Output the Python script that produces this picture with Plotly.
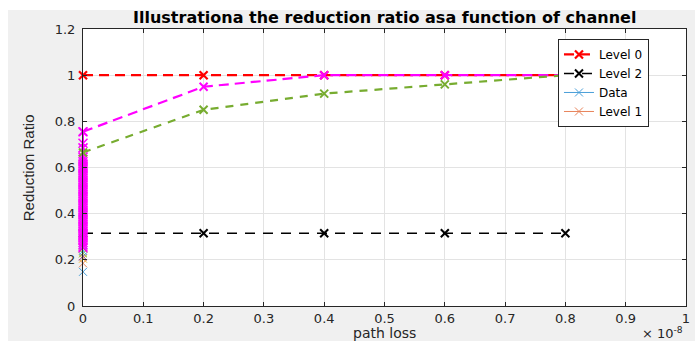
import plotly.graph_objects as go

# ---------------- data ----------------
path_loss = [0.0, 0.2e-8, 0.4e-8, 0.6e-8, 0.8e-8]
level0 = [1.0, 1.0, 1.0, 1.0, 1.0]
level2 = [0.315, 0.315, 0.315, 0.315, 0.315]
magenta_curve = [0.755, 0.95, 1.0, 1.0, 1.0]
green_curve = [0.665, 0.85, 0.92, 0.96, 1.0]

# dense column of points at zero path loss
cluster_magenta = [0.255, 0.265, 0.275, 0.285, 0.295, 0.305, 0.315, 0.325, 0.335,
                   0.345, 0.355, 0.365, 0.375, 0.385, 0.395, 0.405, 0.415, 0.425,
                   0.435, 0.445, 0.455, 0.465, 0.475, 0.485, 0.495, 0.505, 0.515,
                   0.525, 0.535, 0.545, 0.555, 0.565, 0.575, 0.585, 0.595, 0.605,
                   0.615, 0.625, 0.635, 0.645, 0.685, 0.705, 0.755]
data_y = [0.148]
level1_y = [0.185]
extra_y = [0.205, 0.215, 0.228, 0.238, 0.25]
extra_colors = ["#EDB120", "#7E2F8E", "#77AC30", "#4DBEEE", "#A2142F"]

x_ticks = [0, 0.1e-8, 0.2e-8, 0.3e-8, 0.4e-8, 0.5e-8, 0.6e-8, 0.7e-8, 0.8e-8, 0.9e-8, 1e-8]
x_ticktext = ["0", "0.1", "0.2", "0.3", "0.4", "0.5", "0.6", "0.7", "0.8", "0.9", "1"]
y_ticks = [0, 0.2, 0.4, 0.6, 0.8, 1.0, 1.2]
y_ticktext = ["0", "0.2", "0.4", "0.6", "0.8", "1", "1.2"]

FONT = "DejaVu Sans, Liberation Sans, Arial"
TXT = "#262626"

fig = go.Figure()

def xm(color, size=8, width=1.5):
    return dict(symbol="x-thin-open", size=size, color=color, line=dict(color=color, width=width))

# Level 0 (red)
fig.add_trace(go.Scatter(x=path_loss, y=level0, name="Level 0", mode="lines+markers",
                         line=dict(color="#FF0000", width=2.2, dash="10px,6px"),
                         marker=xm("#FF0000", 8, 2.2), legendrank=1, cliponaxis=False))
# Level 2 (black)
fig.add_trace(go.Scatter(x=path_loss, y=level2, name="Level 2", mode="lines+markers",
                         line=dict(color="#000000", width=1.5, dash="10px,8px"),
                         marker=xm("#000000", 8, 2), legendrank=2, cliponaxis=False))
# Data (blue)
fig.add_trace(go.Scatter(x=[0.0] * len(data_y), y=data_y, name="Data", mode="lines+markers",
                         line=dict(color="#4a9fd8", width=1), marker=xm("#4a9fd8", 8, 1),
                         legendrank=3, cliponaxis=False))
# Level 1 (orange)
fig.add_trace(go.Scatter(x=[0.0] * len(level1_y), y=level1_y, name="Level 1", mode="lines+markers",
                         line=dict(color="#e8835a", width=1), marker=xm("#e8835a", 8, 1),
                         legendrank=4, cliponaxis=False))
# extra coloured points at zero
for yv, c in zip(extra_y, extra_colors):
    fig.add_trace(go.Scatter(x=[0.0], y=[yv], mode="markers", marker=xm(c, 8, 1),
                             showlegend=False, cliponaxis=False))
# magenta column at zero
fig.add_trace(go.Scatter(x=[0.0] * len(cluster_magenta), y=cluster_magenta, mode="lines+markers",
                         line=dict(color="#FF00FF", width=2), marker=xm("#FF00FF", 9, 1.5),
                         showlegend=False, cliponaxis=False))
# magenta curve
fig.add_trace(go.Scatter(x=path_loss, y=magenta_curve, mode="lines+markers",
                         line=dict(color="#FF00FF", width=2.2, dash="10px,6px"),
                         marker=xm("#FF00FF", 8, 2), showlegend=False, cliponaxis=False))
# green curve
fig.add_trace(go.Scatter(x=path_loss, y=green_curve, mode="lines+markers",
                         line=dict(color="#77AC30", width=2.2, dash="8px,7px"),
                         marker=xm("#77AC30", 8, 2), showlegend=False, cliponaxis=False))

axis_common = dict(showline=True, linecolor=TXT, linewidth=1, mirror="ticks",
                   ticks="inside", ticklen=4, tickcolor=TXT, showgrid=True,
                   gridcolor="#e3e3e3", gridwidth=1, zeroline=False,
                   tickfont=dict(family=FONT, size=13, color=TXT))

fig.update_xaxes(range=[0, 1e-8], tickvals=x_ticks, ticktext=x_ticktext, **axis_common)
fig.update_yaxes(range=[0, 1.2], tickvals=y_ticks, ticktext=y_ticktext,
                 ticklabelstandoff=4, **axis_common)

# figure frame (grey MATLAB-like background) and white axes area
fig.add_shape(type="rect", xref="paper", yref="paper", x0=-0.1244, x1=1.0149, y0=-0.13, y1=1.0686,
              fillcolor="#f0f0f0", line=dict(width=0), layer="below")
fig.add_shape(type="rect", xref="paper", yref="paper", x0=0, x1=1, y0=0, y1=1,
              fillcolor="white", line=dict(width=0), layer="below")

fig.add_annotation(text="Illustrationa the reduction ratio asa function of channel",
                   xref="paper", yref="paper", x=0.5, y=1.043, xanchor="center", yanchor="middle",
                   showarrow=False, font=dict(family=FONT, size=16, color="#000000", weight="bold"))
fig.add_annotation(text="path loss", xref="paper", yref="paper", x=0.5, y=-0.097,
                   xanchor="center", yanchor="middle", showarrow=False, borderpad=0,
                   font=dict(family=FONT, size=14, color=TXT))
fig.add_annotation(text="Reduction Ratio", xref="paper", yref="paper", x=-0.09, y=0.5,
                   xanchor="center", yanchor="middle", textangle=-90, showarrow=False,
                   font=dict(family="Liberation Sans Narrow, Liberation Sans, Arial", size=15, color=TXT))
fig.add_annotation(text="× 10<sup>-8</sup>", xref="paper", yref="paper", x=0.997, y=-0.097,
                   xanchor="right", yanchor="middle", showarrow=False, borderpad=0,
                   font=dict(family=FONT, size=13, color=TXT))

fig.update_layout(
    width=699, height=341,
    margin=dict(l=83, r=13, t=29, b=35, autoexpand=False),
    paper_bgcolor="white", plot_bgcolor="white",
    showlegend=True,
    legend=dict(x=0.7877, y=0.964, xanchor="left", yanchor="top", bgcolor="white",
                bordercolor=TXT, borderwidth=1, tracegroupgap=0,
                font=dict(family=FONT, size=12, color="#000000"), itemwidth=30),
)

fig.write_html("out.html")
